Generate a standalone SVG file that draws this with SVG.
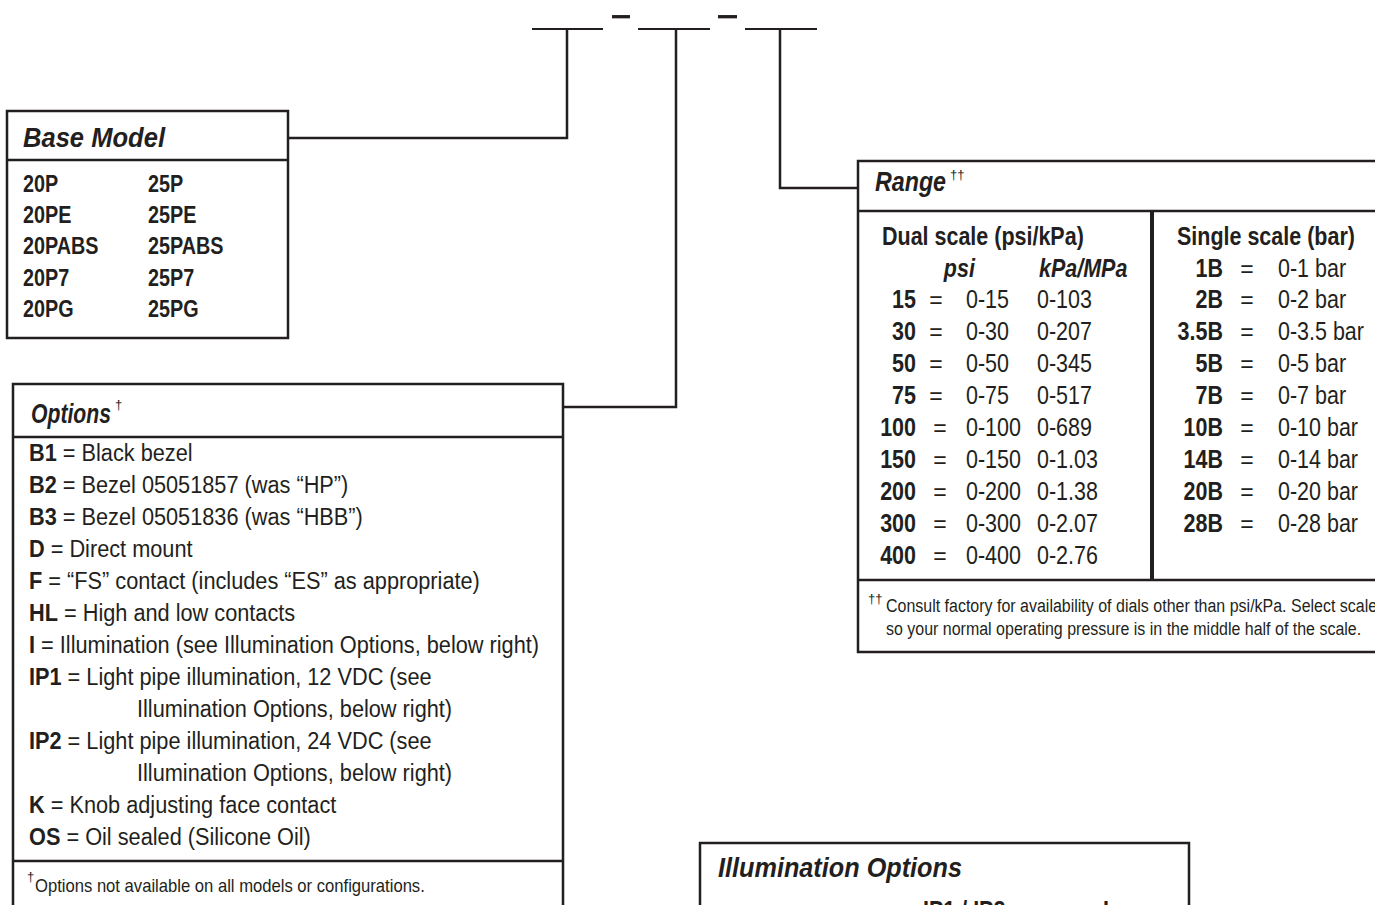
<svg xmlns="http://www.w3.org/2000/svg" width="1375" height="905" viewBox="0 0 1375 905">
<style>
  text { font-family: "Liberation Sans", Arial, sans-serif; fill: #231f20; font-size: 23px; transform-box: fill-box; transform-origin: 0 0; transform: scaleX(0.86); }
  .b { font-weight: bold; }
  .bi { font-weight: bold; font-style: italic; }
  .op { transform: scaleX(0.945); }
  .title { font-weight: bold; font-style: italic; font-size: 28px; transform: none; }
  .sup { font-size: 13px; transform: none; }
  .fn { font-size: 18.6px; transform: scaleX(0.86); }
  .fno { font-size: 19px; transform: scaleX(0.875); }
  .rg { font-size: 25px; }
  .end { text-anchor: end; transform-origin: 100% 0; }
  .eq { text-anchor: middle; transform: none; font-size: 23px; }
  .box { fill: #fff; stroke: #231f20; stroke-width: 2.5; }
  .sep { stroke: #231f20; stroke-width: 2.5; fill: none; }
  .con { stroke: #231f20; stroke-width: 2.5; fill: none; }
  .blank { stroke: #231f20; stroke-width: 2; }
  .dash { stroke: #231f20; stroke-width: 3.3; }
</style>

<g id="header">
  <line class="blank" x1="532" y1="29" x2="603" y2="29"/>
  <line class="blank" x1="638" y1="29" x2="710" y2="29"/>
  <line class="blank" x1="745" y1="29" x2="817" y2="29"/>
  <line class="dash" x1="612" y1="16.7" x2="630" y2="16.7"/>
  <line class="dash" x1="718" y1="16.7" x2="737" y2="16.7"/>
</g>

<g id="connectors">
  <path class="con" d="M567,29 V138 H288"/>
  <path class="con" d="M676,29 V407 H563"/>
  <path class="con" d="M780,29 V188 H858"/>
</g>

<g id="base-model">
  <rect class="box" x="7" y="111" width="281" height="227"/>
  <line class="sep" x1="7" y1="160" x2="288" y2="160"/>
  <text class="title" x="23" y="147" textLength="142" lengthAdjust="spacingAndGlyphs">Base Model</text>
  <text class="b" x="23" y="192">20P</text>
  <text class="b" x="23" y="223">20PE</text>
  <text class="b" x="23" y="254">20PABS</text>
  <text class="b" x="23" y="286">20P7</text>
  <text class="b" x="23" y="317">20PG</text>
  <text class="b" x="148" y="192">25P</text>
  <text class="b" x="148" y="223">25PE</text>
  <text class="b" x="148" y="254">25PABS</text>
  <text class="b" x="148" y="286">25P7</text>
  <text class="b" x="148" y="317">25PG</text>
</g>

<g id="options">
  <path class="box" d="M13,912 V384 H563 V912"/>
  <line class="sep" x1="13" y1="437" x2="563" y2="437"/>
  <line class="sep" x1="13" y1="861" x2="563" y2="861"/>
  <text class="title" x="31" y="423" textLength="80" lengthAdjust="spacingAndGlyphs">Options</text>
  <text class="sup" x="115" y="409">†</text>
  <text class="op" x="29" y="461"><tspan class="b">B1</tspan> = Black bezel</text>
  <text class="op" x="29" y="493"><tspan class="b">B2</tspan> = Bezel 05051857 (was “HP”)</text>
  <text class="op" x="29" y="525"><tspan class="b">B3</tspan> = Bezel 05051836 (was “HBB”)</text>
  <text class="op" x="29" y="557"><tspan class="b">D</tspan> = Direct mount</text>
  <text class="op" x="29" y="589"><tspan class="b">F</tspan> = “FS” contact (includes “ES” as appropriate)</text>
  <text class="op" x="29" y="621"><tspan class="b">HL</tspan> = High and low contacts</text>
  <text class="op" x="29" y="653"><tspan class="b">I</tspan> = Illumination (see Illumination Options, below right)</text>
  <text class="op" x="29" y="685"><tspan class="b">IP1</tspan> = Light pipe illumination, 12 VDC (see</text>
  <text class="op" x="137" y="717">Illumination Options, below right)</text>
  <text class="op" x="29" y="749"><tspan class="b">IP2</tspan> = Light pipe illumination, 24 VDC (see</text>
  <text class="op" x="137" y="781">Illumination Options, below right)</text>
  <text class="op" x="29" y="813"><tspan class="b">K</tspan> = Knob adjusting face contact</text>
  <text class="op" x="29" y="845"><tspan class="b">OS</tspan> = Oil sealed (Silicone Oil)</text>
  <text class="sup" x="27" y="881">†</text>
  <text class="fno" x="35" y="892">Options not available on all models or configurations.</text>
</g>

<g id="range">
  <path class="box" d="M1380,161 H858 V652 H1380"/>
  <line class="sep" x1="858" y1="211" x2="1380" y2="211"/>
  <line class="sep" x1="858" y1="580" x2="1380" y2="580"/>
  <line stroke="#231f20" stroke-width="4" x1="1152" y1="211" x2="1152" y2="580"/>
  <text class="title" x="875" y="191" textLength="71" lengthAdjust="spacingAndGlyphs">Range</text>
  <text class="sup" x="950" y="179">††</text>

  <text class="b rg" x="882" y="245">Dual scale (psi/kPa)</text>
  <text class="bi rg" x="944" y="277">psi</text>
  <text class="bi rg" x="1039" y="277">kPa/MPa</text>

  <text class="b rg end" x="916" y="308">15</text><text class="eq" x="936" y="308">=</text><text class="rg" x="966" y="308">0-15</text><text class="rg" x="1037" y="308">0-103</text>
  <text class="b rg end" x="916" y="340">30</text><text class="eq" x="936" y="340">=</text><text class="rg" x="966" y="340">0-30</text><text class="rg" x="1037" y="340">0-207</text>
  <text class="b rg end" x="916" y="372">50</text><text class="eq" x="936" y="372">=</text><text class="rg" x="966" y="372">0-50</text><text class="rg" x="1037" y="372">0-345</text>
  <text class="b rg end" x="916" y="404">75</text><text class="eq" x="936" y="404">=</text><text class="rg" x="966" y="404">0-75</text><text class="rg" x="1037" y="404">0-517</text>
  <text class="b rg end" x="916" y="436">100</text><text class="eq" x="940" y="436">=</text><text class="rg" x="966" y="436">0-100</text><text class="rg" x="1037" y="436">0-689</text>
  <text class="b rg end" x="916" y="468">150</text><text class="eq" x="940" y="468">=</text><text class="rg" x="966" y="468">0-150</text><text class="rg" x="1037" y="468">0-1.03</text>
  <text class="b rg end" x="916" y="500">200</text><text class="eq" x="940" y="500">=</text><text class="rg" x="966" y="500">0-200</text><text class="rg" x="1037" y="500">0-1.38</text>
  <text class="b rg end" x="916" y="532">300</text><text class="eq" x="940" y="532">=</text><text class="rg" x="966" y="532">0-300</text><text class="rg" x="1037" y="532">0-2.07</text>
  <text class="b rg end" x="916" y="564">400</text><text class="eq" x="940" y="564">=</text><text class="rg" x="966" y="564">0-400</text><text class="rg" x="1037" y="564">0-2.76</text>

  <text class="b rg" x="1177" y="245">Single scale (bar)</text>
  <text class="b rg end" x="1223" y="277">1B</text><text class="eq" x="1247" y="277">=</text><text class="rg" x="1278" y="277">0-1 bar</text>
  <text class="b rg end" x="1223" y="308">2B</text><text class="eq" x="1247" y="308">=</text><text class="rg" x="1278" y="308">0-2 bar</text>
  <text class="b rg end" x="1223" y="340">3.5B</text><text class="eq" x="1247" y="340">=</text><text class="rg" x="1278" y="340">0-3.5 bar</text>
  <text class="b rg end" x="1223" y="372">5B</text><text class="eq" x="1247" y="372">=</text><text class="rg" x="1278" y="372">0-5 bar</text>
  <text class="b rg end" x="1223" y="404">7B</text><text class="eq" x="1247" y="404">=</text><text class="rg" x="1278" y="404">0-7 bar</text>
  <text class="b rg end" x="1223" y="436">10B</text><text class="eq" x="1247" y="436">=</text><text class="rg" x="1278" y="436">0-10 bar</text>
  <text class="b rg end" x="1223" y="468">14B</text><text class="eq" x="1247" y="468">=</text><text class="rg" x="1278" y="468">0-14 bar</text>
  <text class="b rg end" x="1223" y="500">20B</text><text class="eq" x="1247" y="500">=</text><text class="rg" x="1278" y="500">0-20 bar</text>
  <text class="b rg end" x="1223" y="532">28B</text><text class="eq" x="1247" y="532">=</text><text class="rg" x="1278" y="532">0-28 bar</text>

  <text class="sup" x="868" y="603">††</text>
  <text class="fn" x="886" y="612">Consult factory for availability of dials other than psi/kPa. Select scale</text>
  <text class="fn" x="886" y="635">so your normal operating pressure is in the middle half of the scale.</text>
</g>

<g id="illumination-options">
  <path class="box" d="M700,912 V843 H1189 V912"/>
  <text class="title" x="718" y="877" textLength="244" lengthAdjust="spacingAndGlyphs">Illumination Options</text>
  <text class="b rg" x="923" y="919">IP1 / IP2</text>
  <text class="b rg" x="1103" y="919">I</text>
</g>
</svg>
